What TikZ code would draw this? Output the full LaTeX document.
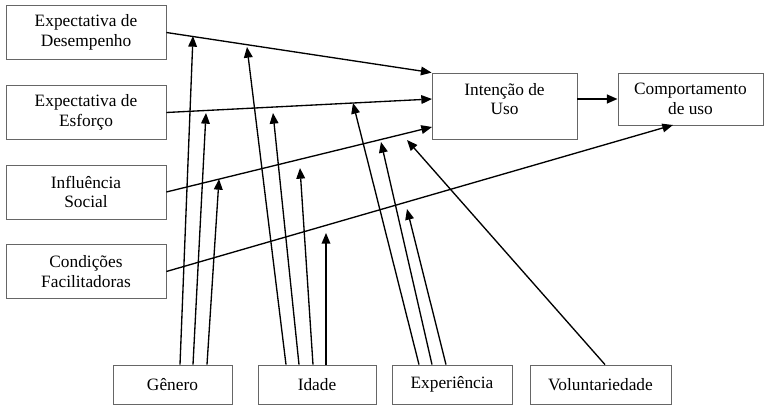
\documentclass[tikz,border=0pt]{standalone}
\usepackage{fontspec}
\setmainfont{Liberation Serif}
\usetikzlibrary{positioning,calc,arrows.meta}

\begin{document}
\begin{tikzpicture}[x=0.75pt,y=-0.75pt,
		box/.style={draw=black!60,line width=0.6pt,align=center,inner sep=0pt,font=\rmfamily\fontsize{13}{14.5}\selectfont},
		arr/.style={-{Triangle[length=8pt,width=6.5pt]},line width=1pt}]
		\useasboundingbox (0,0) rectangle (769,406);
		
		\node[box,minimum width=120pt,minimum height=40pt] (desemp) at (86,32.5) {Expectativa de\\Desempenho};
		\node[box,minimum width=120pt,minimum height=40pt] (esforco) at (86,112.5) {Expectativa de\\Esforço};
		\node[box,minimum width=120pt,minimum height=40.5pt] (social) at (86,192) {Influência\\Social};
		\node[box,minimum width=120pt,minimum height=40pt] (condic) at (86,271.5) {Condições\\Facilitadoras};
		\node[box,minimum width=108.75pt,minimum height=49.5pt,text depth=11pt] (intencao) at (504.5,106) {Intenção de\\Uso};
		\node[box,minimum width=108.75pt,minimum height=39pt] (comport) at (690.5,99) {Comportamento\\de uso};
		
		\node[box,minimum width=89.25pt,minimum height=29.25pt] (genero) at (172.5,384.5) {Gênero};
		\node[box,minimum width=88.5pt,minimum height=29.25pt] (idade) at (317,384.5) {Idade};
		\node[box,minimum width=90pt,minimum height=29.25pt] (exper) at (452,384.5) {Experiência};
		\node[box,minimum width=105.75pt,minimum height=29.25pt] (volunt) at (600.5,384.5) {Voluntariedade};
		
		\coordinate (in2) at (432,99);
		\coordinate (in3) at (432,127);
		\coordinate (cp) at (673,125);
		
		\draw[arr] (desemp.east) -- (intencao.north west);
		\draw[arr] (esforco.east) -- (in2);
		\draw[arr] (social.east) -- (in3);
		\draw[arr] (condic.east) -- (cp);
		\draw[arr,line width=1.6pt] (intencao.east |- comport.west) -- (comport.west);
		
		% moderadores
		\coordinate (tg1) at (193,36);
		\coordinate (tg2) at (206,113);
		\coordinate (tg3) at (219,179);
		\coordinate (ti1) at (247,47);
		\coordinate (ti2) at (273,113);
		\coordinate (ti3) at (300,168);
		\coordinate (ti4) at (326,233);
		\coordinate (te1) at (353,103);
		\coordinate (te2) at (381,142);
		\coordinate (te3) at (407,209);
		\coordinate (tv) at (407,140);
		
		\draw[arr] ($(genero.north)+(7.5,0)$) -- (tg1);
		\draw[arr] ($(genero.north)+(20.5,0)$) -- (tg2);
		\draw[arr] ($(genero.north)+(34.5,0)$) -- (tg3);
		\draw[arr] ($(idade.north)+(-31,0)$) -- (ti1);
		\draw[arr] ($(idade.north)+(-18,0)$) -- (ti2);
		\draw[arr] ($(idade.north)+(-4,0)$) -- (ti3);
		\draw[arr] ($(idade.north)+(9,0)$) -- (ti4);
		\draw[arr] ($(exper.north)+(-33,0)$) -- (te1);
		\draw[arr] ($(exper.north)+(-20,0)$) -- (te2);
		\draw[arr] ($(exper.north)+(-6,0)$) -- (te3);
		\draw[arr] ($(volunt.north)+(4.5,0)$) -- (tv);
	\end{tikzpicture}
\end{document}
